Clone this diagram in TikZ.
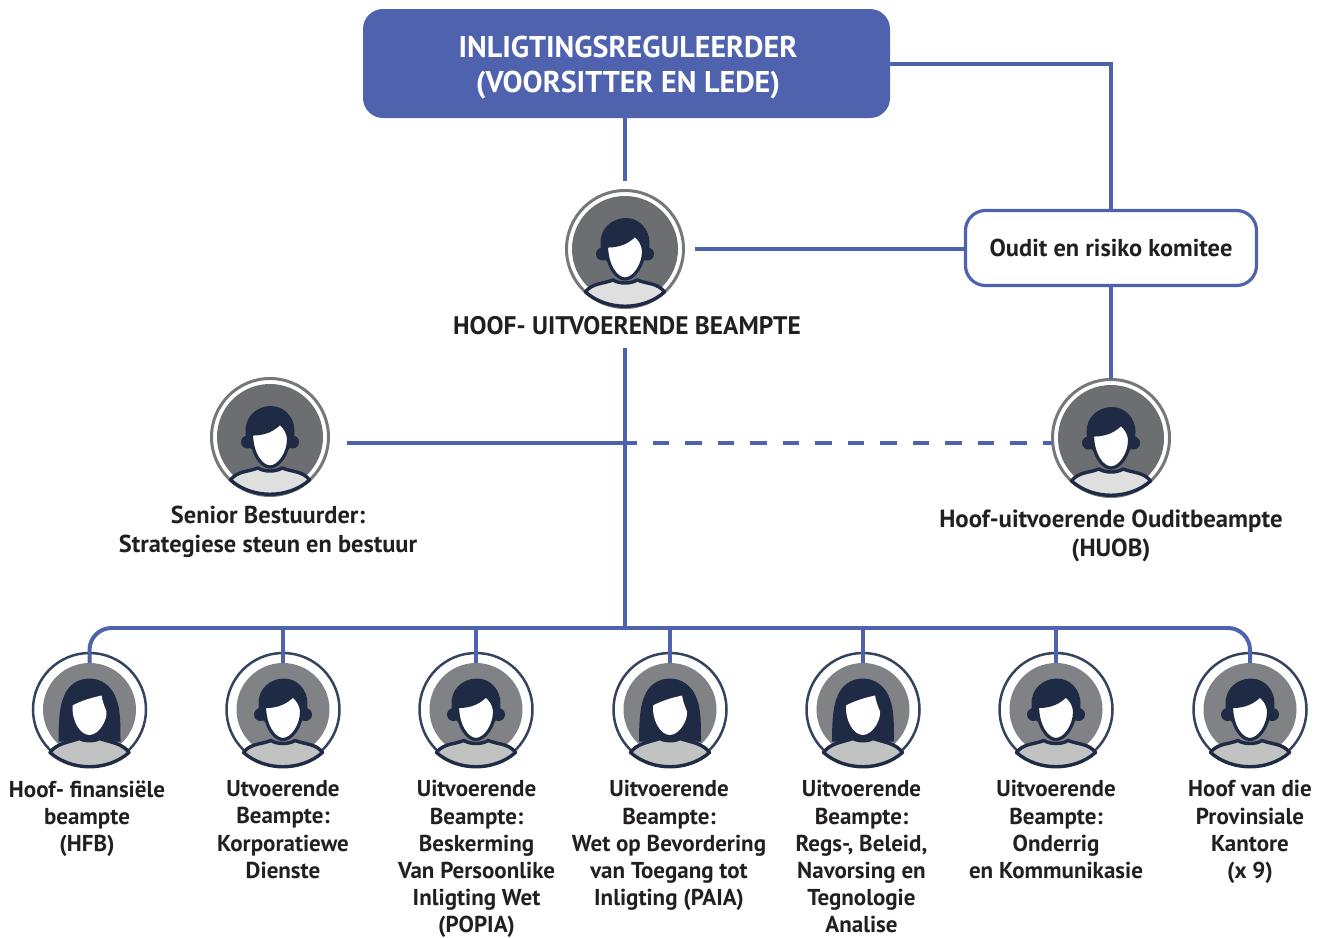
\documentclass[tikz,border=0pt]{standalone}
\usepackage{fontspec}
\setmainfont{PT Sans}
\definecolor{linkblue}{HTML}{4F62AE}
\definecolor{navy}{HTML}{1F2A44}
\definecolor{ringdark}{HTML}{34445F}
\definecolor{ringgrey}{HTML}{77787B}
\definecolor{discgreyA}{HTML}{6D6E71}
\definecolor{discgreyB}{HTML}{808285}
\definecolor{bodygreyA}{HTML}{DFDFDF}
\definecolor{bodygreyB}{HTML}{C1C3C2}
\definecolor{txt}{HTML}{231F20}
\tikzset{
 x=1pt,y=-1pt,
 link/.style={draw=linkblue,line width=3.3pt},
 linkend/.style={draw=linkblue,line width=4pt},
 ringA/.style={draw=ringgrey,line width=3pt,radius=58.5},
 discA/.style={fill=discgreyA,radius=53},
 bodyA/.style={fill=bodygreyA},
 ringB/.style={draw=ringdark,line width=2.5pt,radius=56.5},
 discB/.style={fill=discgreyB,radius=46.5},
 bodyB/.style={fill=bodygreyB},
 av/.style={circle,draw=none,inner sep=0pt,minimum size=#1},
 lab/.style={text=txt,font=\bfseries\fontsize{23}{27.2}\selectfont,align=center},
 labbig/.style={text=txt,font=\bfseries\fontsize{24.4}{29}\selectfont,align=center},
 manav/.pic={
  \path[ring#1] (0,0) circle;
  \path[disc#1] (0,0) circle;
  \fill[navy] (-22.5,5) circle[radius=6.5];
  \fill[navy] (22.5,5) circle[radius=6.5];
  \fill[navy] (-19,12) -- (-24,3) -- (-24.5,-6) .. controls (-24.5,-22) and (-12,-30.5) .. (0,-31)
     .. controls (14,-31.5) and (24.5,-20) .. (24.5,-6) -- (24,3) -- (19,12) -- cycle;
  \path[draw=navy,line width=3.4pt,body#1,line join=round] (-39.5,43) .. controls (-33,34) and (-22,35) .. (-12,31)
     .. controls (-6,35) and (6,35) .. (12,31) .. controls (22,35) and (33,34) .. (39.5,43)
     .. controls (18,62) and (-18,62) .. cycle;
  \path[fill=white,draw=navy,line width=3.2pt] (-18.5,-3) .. controls (-5,-3) and (3,-7) .. (10,-14)
     .. controls (14,-10) and (18.5,-6) .. (18.5,3) .. controls (18.5,16) and (9,30) .. (0,30)
     .. controls (-9,30) and (-18.5,16) .. cycle;
 },
 womanav/.pic={
  \path[ring#1] (0,0) circle;
  \path[disc#1] (0,0) circle;
  \fill[navy] (-31,32) .. controls (-31,15) and (-30,-4) .. (-26,-12)
     .. controls (-22,-24) and (-12,-31) .. (0,-31)
     .. controls (12,-31) and (23,-23) .. (27,-10)
     .. controls (31,0) and (31,15) .. (31,32) -- cycle;
  \path[draw=navy,line width=3.4pt,body#1,line join=round] (-39.5,43) .. controls (-33,34) and (-22,33) .. (-10,29)
     .. controls (-5,32) and (5,32) .. (10,29) .. controls (22,33) and (33,34) .. (39.5,43)
     .. controls (18,62) and (-18,62) .. cycle;
  \fill[white] (-17,-4) .. controls (-8,-9) and (3,-12) .. (12,-14)
     .. controls (13,-8) and (15,-3) .. (17,2) .. controls (18,10) and (10,25) .. (0,25.5)
     .. controls (-10,25.5) and (-18,10) .. cycle;
 },
}
\begin{document}
\begin{tikzpicture}
\useasboundingbox (0,0) rectangle (1325,937);
% title and committee
\node[draw=none,fill=linkblue,rounded corners=20pt,minimum width=527pt,minimum height=109pt,inner sep=0pt] (reg) at (626.5,63.5) {};
\node[text=white,align=center,inner sep=0pt,font=\bfseries\fontsize{30}{35}\selectfont] (regtext) at (628,68) {INLIGTINGSREGULEERDER\\(VOORSITTER EN LEDE)};
\node[draw=linkblue,line width=3.2pt,rounded corners=20pt,minimum width=291pt,minimum height=75pt,inner sep=0pt,fill=white,
  labbig] (kom) at (1111,248) {Oudit en risiko komitee};
% avatars
\node[av=117pt] (ceo) at (625,249) {};
\pic at (625,249) {manav=A};
\node[av=117pt] (sen) at (270,437) {};
\pic at (270,437) {manav=A};
\node[av=117pt] (huob) at (1111,438) {};
\pic at (1111,438) {manav=A};
\foreach \n/\cx/\kind in {a1/89.5/womanav,a2/283/manav,a3/476/manav,a4/670/womanav,a5/863/womanav,a6/1056/manav,a7/1250/manav}{
  \node[av=113pt] (\n) at (\cx,709.5) {};
  \pic at (\cx,709.5) {\kind=B};
}
% labels
\node[labbig,font=\bfseries\fontsize{25.4}{29}\selectfont] (lceo) at (627,326) {HOOF- UITVOERENDE BEAMPTE};
\node[labbig,anchor=north] (lsen) at (268,503) {Senior Bestuurder:\\Strategiese steun en bestuur};
\node[labbig,font=\bfseries\fontsize{24.8}{29}\selectfont,anchor=north] (lhuob) at (1111,506) {Hoof-uitvoerende Ouditbeampte\\(HUOB)};
\node[lab,anchor=north] (l1) at (87,777) {Hoof- finansiële\\beampte\\(HFB)};
\node[lab,anchor=north] (l2) at (283,777) {Utvoerende\\Beampte:\\Korporatiewe\\Dienste};
\node[lab,anchor=north] (l3) at (476.5,777) {Uitvoerende\\Beampte:\\Beskerming\\Van Persoonlike\\Inligting Wet\\(POPIA)};
\node[lab,anchor=north] (l4) at (669,777) {Uitvoerende\\Beampte:\\Wet op Bevordering\\van Toegang tot\\Inligting (PAIA)};
\node[lab,anchor=north] (l5) at (861.5,777) {Uitvoerende\\Beampte:\\Regs-, Beleid,\\Navorsing en\\Tegnologie\\Analise};
\node[lab,anchor=north] (l6) at (1056,777) {Uitvoerende\\Beampte:\\Onderrig\\en Kommunikasie};
\node[lab,anchor=north] (l7) at (1250,777) {Hoof van die\\Provinsiale\\Kantore\\(x 9)};
% connectors
\coordinate (spine) at (625,348);
\coordinate (junction) at (625,443);
\coordinate (busmid) at (625,628);
\coordinate (busL) at (112,628);
\coordinate (busR) at (1226,628);
\draw[link] (reg.south -| ceo) -- ([yshift=9pt]ceo.north);
\draw[link] (reg.east |- 0,64) -| (kom.north);
\draw[link] ([xshift=11pt]ceo.east) -- (ceo.east -| kom.west);
\draw[link] (kom.south) -- (huob.north);
\draw[link] (spine) -- (busmid);
\draw[link] ([xshift=18pt]sen.east |- junction) -- (junction);
\draw[link,line width=3.8pt,dash pattern=on 16.3pt off 16.2pt,dash phase=4.8pt] (junction) -- (huob.west |- junction);
\draw[link] (busL) -- (busR);
\draw[linkend,rounded corners=22pt] ([yshift=-10pt]a1.north) |- (busL);
\draw[linkend,rounded corners=22pt] (busR) -| ([yshift=-10pt]a7.north);
\foreach \n in {a2,a3,a4,a5,a6}{
  \draw[link] (\n.north |- busmid) -- ([yshift=-10pt]\n.north);
}
\end{tikzpicture}
\end{document}
